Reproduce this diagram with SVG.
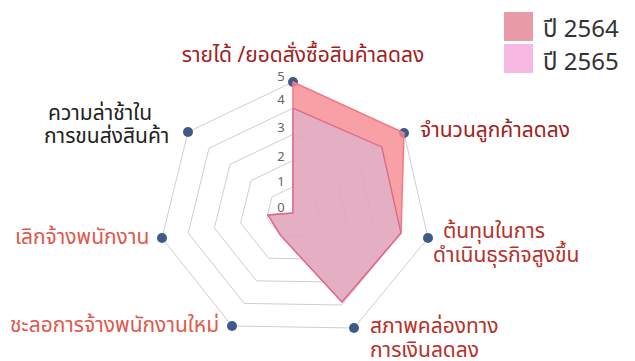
<svg xmlns="http://www.w3.org/2000/svg" width="635" height="361" viewBox="0 0 635 361">
<style>
text{font-family:"Noto Sans Thai","Noto Sans","Open Sans",sans-serif}
.grid{fill:none;stroke:#c8c8c8;stroke-width:0.9}
.dot{fill:#3f5a8a}
.ax{font-size:13px;fill:#666;text-anchor:middle}
.lab{font-size:21px}
.dk{fill:#a32020}
.md{fill:#b8302a}
.lt{fill:#e0584c}
.bk{fill:#222}
.leg{font-size:24px;fill:#333}
</style>
<g id="grid">
<polygon class="grid" points="293,186.8 315.2,197 320,218 305.2,236 280.8,235.6 266.8,218 272,196.8"/>
<polygon class="grid" points="293,160.6 337.4,181 347,223 317.4,259 268.6,258.2 240.6,223 251,180.6"/>
<polygon class="grid" points="293,134.4 359.6,165 374,228 329.6,282 256.4,280.8 214.4,228 230,164.4"/>
<polygon class="grid" points="293,108.2 381.8,149 401,233 341.8,305 244.2,303.4 188.2,233 209,148.2"/>
<polygon class="grid" points="293,82 404,133 428,238 354,328 232,326 162,238 188,132"/>
</g>
<g id="axis-labels">
<text class="ax" x="281" y="212">0</text>
<text class="ax" x="281" y="186">1</text>
<text class="ax" x="281" y="161">2</text>
<text class="ax" x="281" y="132">3</text>
<text class="ax" x="281" y="104">4</text>
<text class="ax" x="281" y="81">5</text>
</g>
<g id="markers">
<circle class="dot" cx="293" cy="82" r="5"/>
<circle class="dot" cx="404" cy="133" r="5"/>
<circle class="dot" cx="428" cy="238" r="5"/>
<circle class="dot" cx="354" cy="328" r="5"/>
<circle class="dot" cx="232" cy="326" r="5"/>
<circle class="dot" cx="162" cy="238" r="5"/>
<circle class="dot" cx="188" cy="132" r="5"/>
</g>
<g id="series-2564">
<polygon points="293,82 404,133 401,233 342,302 280.8,235.6 268,215 293,213" fill="#f58890" fill-opacity="0.8" stroke="#f27a86" stroke-width="1.5" stroke-linejoin="round"/>
</g>
<g id="series-2565">
<polygon points="293,108.2 381.8,147 401,233 342,302 280.8,235.6 268,215 293,213" fill="#d7b9d5" fill-opacity="0.6" stroke="#e0668a" stroke-width="1.3" stroke-linejoin="round"/>
</g>
<g id="labels">
<text class="lab dk" x="303" y="62" text-anchor="middle">รายได้ /ยอดสั่งซื้อสินค้าลดลง</text>
<text class="lab dk" x="420" y="137">จำนวนลูกค้าลดลง</text>
<text class="lab md" x="443" y="238">ต้นทุนในการ</text>
<text class="lab md" x="433" y="262">ดำเนินธุรกิจสูงขึ้น</text>
<text class="lab md" x="370" y="333">สภาพคล่องทาง</text>
<text class="lab md" x="370" y="357">การเงินลดลง</text>
<text class="lab bk" x="48" y="120">ความล่าช้าใน</text>
<text class="lab bk" x="44" y="143">การขนส่งสินค้า</text>
<text class="lab lt" x="15" y="244">เลิกจ้างพนักงาน</text>
<text class="lab lt" x="10" y="332">ชะลอการจ้างพนักงานใหม่</text>
</g>
<g id="legend">
<rect x="504" y="12" width="29" height="29" fill="#e89aa6"/>
<rect x="504" y="44" width="29" height="29" fill="#f8b8e4"/>
<text class="leg" x="543" y="37">ปี 2564</text>
<text class="leg" x="543" y="70">ปี 2565</text>
</g>
</svg>
